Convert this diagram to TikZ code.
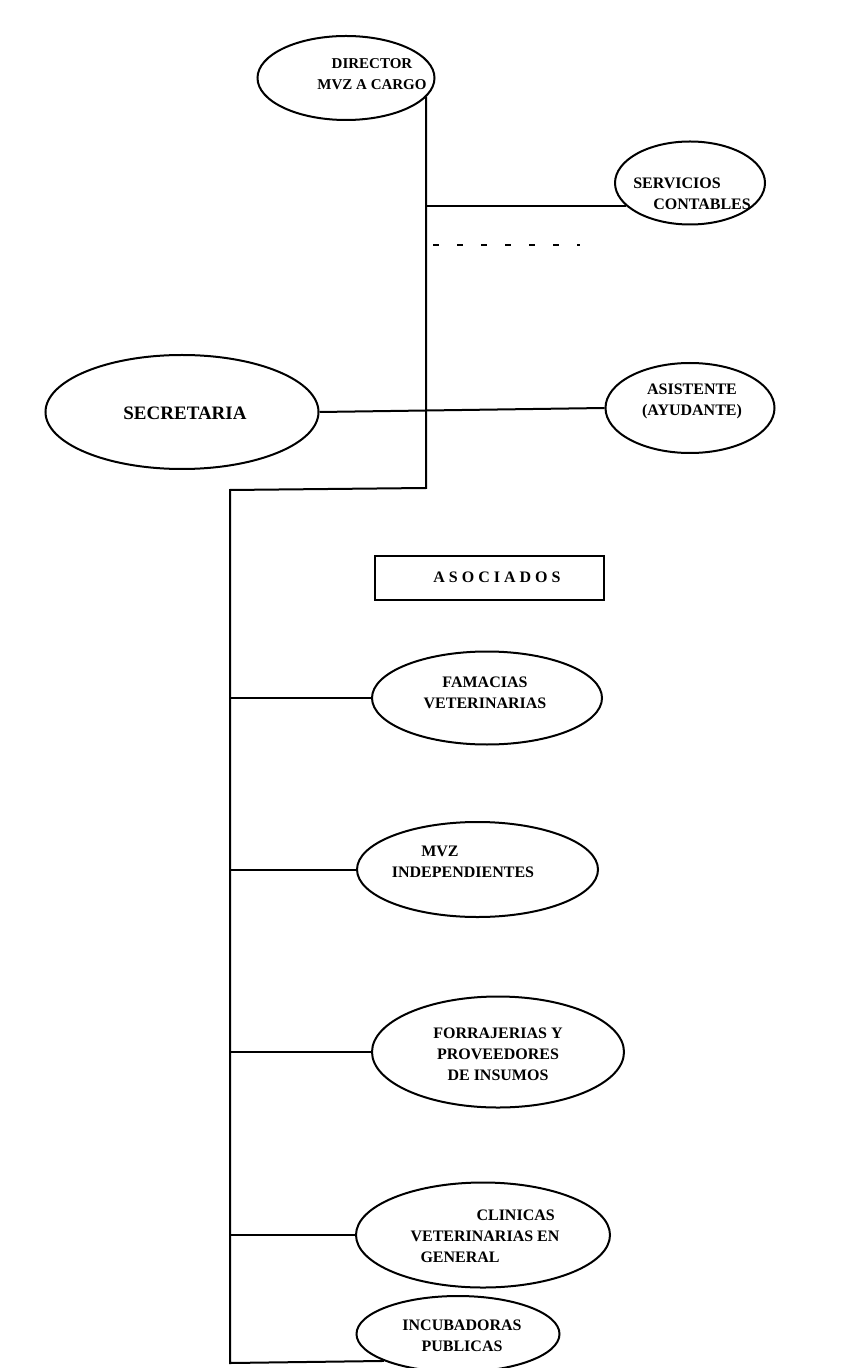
\documentclass[tikz,border=0pt]{standalone}
\usepackage{fontspec}
\setmainfont{Liberation Serif}
\usetikzlibrary{shapes.geometric}

\tikzset{
  puesto/.style={draw, ellipse, line width=1pt, inner sep=0pt},
  rotulo/.style={font=\fontsize{8}{10.5}\selectfont\bfseries, align=center, inner sep=0pt},
  enlace/.style={line width=1pt},
}

\begin{document}
\begin{tikzpicture}[x=0.5pt, y=-0.5pt]
\useasboundingbox (0,0) rectangle (867,1368);
\clip (0,0) rectangle (867,1368);
\node[puesto, minimum width=88.5pt, minimum height=42pt] (dir) at (346,78) {};
\node[rotulo, font=\fontsize{7.5}{10.5}\selectfont\bfseries] (dirt) at (372,74) {DIRECTOR\\MVZ A CARGO};
\node[puesto, minimum width=75pt, minimum height=41.5pt] (serv) at (690,183) {};
\node[rotulo, align=left] (servt) at (692,194) {SERVICIOS\\\hspace{10pt}CONTABLES};
\node[puesto, minimum width=136.5pt, minimum height=57pt] (secr) at (182,412) {};
\node[rotulo, font=\fontsize{9.5}{12}\selectfont\bfseries] (secrt) at (185,413) {SECRETARIA};
\node[puesto, minimum width=84.5pt, minimum height=45pt] (asis) at (690,408) {};
\node[rotulo] (asist) at (692,401) {ASISTENTE\\(AYUDANTE)};
\node[draw, line width=1pt, minimum width=114.5pt, minimum height=22pt] (asoc) at (489.5,578) {};
\node[rotulo] (asoct) at (497,577) {A S O C I A D O S};
\node[puesto, minimum width=115pt, minimum height=46.5pt] (fam) at (487,698) {};
\node[rotulo] (famt) at (485,693) {FAMACIAS\\VETERINARIAS};
\node[puesto, minimum width=120.5pt, minimum height=47.5pt] (mvz) at (477.5,869.5) {};
\node[rotulo] (mvzt) at (463,862) {MVZ\hspace*{23pt}\\INDEPENDIENTES};
\node[puesto, minimum width=126pt, minimum height=55.5pt] (forr) at (498,1052) {};
\node[rotulo] (forrt) at (498,1054) {FORRAJERIAS Y\\PROVEEDORES\\DE INSUMOS};
\node[puesto, minimum width=127pt, minimum height=52.5pt] (clin) at (483,1235) {};
\node[rotulo, align=left] (clint) at (485,1236) {\hspace{33pt}CLINICAS\\VETERINARIAS EN\\\hspace{5pt}GENERAL};
\node[puesto, minimum width=101.5pt, minimum height=38pt] (incu) at (458,1334) {};
\node[rotulo] (incut) at (462,1336) {INCUBADORAS\\PUBLICAS};
\coordinate (tr) at (426,488);
\coordinate (tl) at (230,490);
\coordinate (bl) at (230,1363);
\coordinate (da) at (433,245);
\coordinate (db) at (580,245);
\draw[enlace] (tr |- dir.-13) -- (tr) -- (tl) -- (bl) -- (incu.200);
\draw[enlace] (serv.200) -- (serv.200 -| tr);
\draw[enlace, dash pattern=on 3pt off 9pt] (da) -- (db);
\draw[enlace] (secr.east) -- (asis.west);
\foreach \n in {fam,mvz,forr,clin}
  \draw[enlace] (\n.west) -- (\n.west -| tl);
\end{tikzpicture}
\end{document}
